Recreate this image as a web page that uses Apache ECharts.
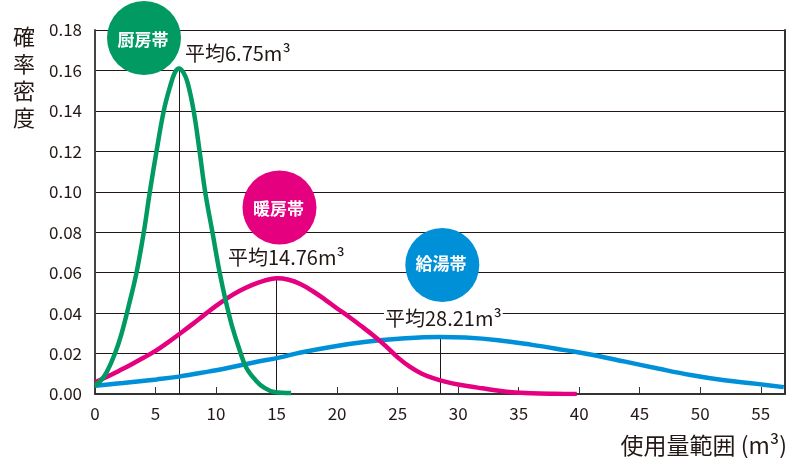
<!DOCTYPE html>
<html>
<head>
<meta charset="utf-8">
<script src="https://cdn.jsdelivr.net/npm/echarts@6/dist/echarts.min.js"></script>
<style>
  html, body { margin: 0; padding: 0; background: #ffffff; }
  #chart { width: 788px; height: 458px; }
</style>
</head>
<body>
<div id="chart"></div>
<script>
// ---- data ----
const seriesNames = ['給湯帯', '暖房帯', '厨房帯'];
const meanLabels = ['平均28.21m³', '平均14.76m³', '平均6.75m³'];
const yTickLabels = ['0.00','0.02','0.04','0.06','0.08','0.10','0.12','0.14','0.16','0.18'];
const xTickLabels = ['0','5','10','15','20','25','30','35','40','45','50','55'];

const hotWaterX = [0, 2.33, 5.08, 6.94, 9.47, 10.56, 13.3, 15.2, 17.0, 19.6, 22.4, 25.1, 28.4, 30.6, 33.3, 36.1, 38.8, 40.7, 43.8, 46.5, 49.2, 52.0, 54.7, 56.9];
const hotWaterY = [0.0041, 0.0054, 0.0072, 0.0086, 0.0112, 0.0124, 0.0158, 0.018, 0.0205, 0.0234, 0.0258, 0.0273, 0.0282, 0.0279, 0.0266, 0.0243, 0.0217, 0.0198, 0.016, 0.0126, 0.0094, 0.0068, 0.005, 0.0034];

const heatingX = [0, 1, 2, 3, 4, 5, 6, 7, 8, 9, 10, 11, 12, 13, 14, 15, 16, 17, 18, 19, 20, 21, 22, 23, 24, 25, 26, 27, 28, 29, 30, 32, 34, 36, 38, 39.8];
const heatingY = [0.0058, 0.0085, 0.0115, 0.0146, 0.0179, 0.0213, 0.0254, 0.0298, 0.0343, 0.039, 0.0436, 0.0477, 0.0512, 0.054, 0.0561, 0.0572, 0.0565, 0.0543, 0.0508, 0.0467, 0.0423, 0.0381, 0.0336, 0.0289, 0.0238, 0.0181, 0.0135, 0.01, 0.0077, 0.006, 0.0047, 0.0028, 0.0011, 0.0004, 0.0001, 0];

const kitchenX = [0, 0.5, 0.96, 1.65, 2.2, 2.8, 3.43, 4.03, 4.53, 5.08, 5.68, 6.2, 6.6, 6.95, 7.3, 7.65, 8.15, 8.64, 9.1, 9.7, 10.3, 10.8, 11.3, 11.93, 12.5, 13.3, 14.0, 14.8, 16.2];
const kitchenY = [0.0041, 0.0068, 0.0107, 0.02, 0.03, 0.044, 0.06, 0.08, 0.10, 0.12, 0.14, 0.152, 0.159, 0.161, 0.159, 0.154, 0.14, 0.12, 0.10, 0.08, 0.06, 0.046, 0.034, 0.022, 0.013, 0.0066, 0.003, 0.001, 0.0005];

// mean marker lines: x position and height (curve peak)
const meanX = [28.5, 14.95, 6.95];
const meanTop = [0.0282, 0.0572, 0.161];

const colors = ['#0090D8', '#E5007F', '#009A62'];
const xs = [hotWaterX, heatingX, kitchenX];
const ys = [hotWaterY, heatingY, kitchenY];

const FONT = '"Noto Sans CJK JP", "Noto Sans", sans-serif';
const TXT = '#231815';

const chart = echarts.init(document.getElementById('chart'), null, { renderer: 'canvas' });

const series = seriesNames.map((name, i) => ({
  name: name,
  type: 'line',
  data: xs[i].map((x, k) => [x, ys[i][k]]),
  smooth: 0.4,
  showSymbol: false,
  symbol: 'none',
  lineStyle: { color: colors[i], width: 4.5 },
  z: 3 + i,
  markLine: {
    silent: true,
    symbol: 'none',
    label: { show: false },
    lineStyle: { color: TXT, width: 1, type: 'solid' },
    z: 1,
    data: [[{ coord: [meanX[i], 0] }, { coord: [meanX[i], meanTop[i]] }]]
  }
}));

function circleGroup(cx, cy, color, text, tx, ty) {
  return [
    { type: 'circle', shape: { cx: cx, cy: cy, r: 37 }, style: { fill: color }, z: 100 },
    { type: 'text', x: tx, y: ty, z: 101,
      style: { text: text, fill: '#ffffff', font: 'bold 17px ' + FONT, align: 'center', verticalAlign: 'middle' } }
  ];
}

function meanText(x, y, text) {
  return { type: 'text', x: x, y: y, z: 100,
    style: { text: text, fill: TXT, font: '20px ' + FONT, align: 'left', verticalAlign: 'middle',
      backgroundColor: '#ffffff', padding: [0, 1, 0, 1] } };
}

const option = {
  animation: false,
  backgroundColor: '#ffffff',
  grid: { left: 95, right: 2, top: 30, bottom: 64, containLabel: false },
  xAxis: {
    type: 'value', min: 0, max: 57, interval: 5,
    axisLine: { show: true, lineStyle: { color: '#333333', width: 2 } },
    axisTick: { show: true, inside: true, length: 7, lineStyle: { color: '#333333', width: 1 } },
    axisLabel: {
      fontSize: 17, fontFamily: FONT, color: TXT, margin: 11,
      formatter: v => { const i = Math.round(v / 5); return (Math.abs(v - i * 5) < 1e-6 && xTickLabels[i] !== undefined) ? xTickLabels[i] : ''; }
    },
    splitLine: { show: false }
  },
  yAxis: [{
    type: 'value', min: 0, max: 0.18, interval: 0.02,
    axisLine: { show: true, lineStyle: { color: '#444444', width: 2 } },
    axisTick: { show: false },
    axisLabel: {
      fontSize: 17, fontFamily: FONT, color: TXT, margin: 13,
      formatter: v => { const i = Math.round(v / 0.02); return yTickLabels[i] !== undefined ? yTickLabels[i] : ''; }
    },
    splitLine: { show: true, lineStyle: { color: TXT, width: 1 } }
  }, {
    type: 'value', min: 0, max: 0.18, interval: 0.02, position: 'right',
    axisLine: { show: true, lineStyle: { color: '#333333', width: 2 } },
    axisTick: { show: false }, axisLabel: { show: false }, splitLine: { show: false }
  }],
  series: series,
  graphic: [
    { type: 'text', x: 24, y: 77, z: 100,
      style: { text: '確\n率\n密\n度', fill: TXT, font: '22px ' + FONT, lineHeight: 27, align: 'center', verticalAlign: 'middle' } },
    { type: 'text', x: 787, y: 445, z: 100,
      style: { text: '使用量範囲 (m³)', fill: TXT, font: '23px ' + FONT, align: 'right', verticalAlign: 'middle' } },
    ...circleGroup(144, 38, colors[2], seriesNames[2], 143, 40),
    ...circleGroup(279.5, 207.5, colors[1], seriesNames[1], 278.5, 209),
    ...circleGroup(442.3, 265, colors[0], seriesNames[0], 441, 264),
    meanText(184, 53, meanLabels[2]),
    meanText(227, 257.5, meanLabels[1]),
    meanText(384, 318, meanLabels[0])
  ]
};

chart.setOption(option);
</script>
</body>
</html>
